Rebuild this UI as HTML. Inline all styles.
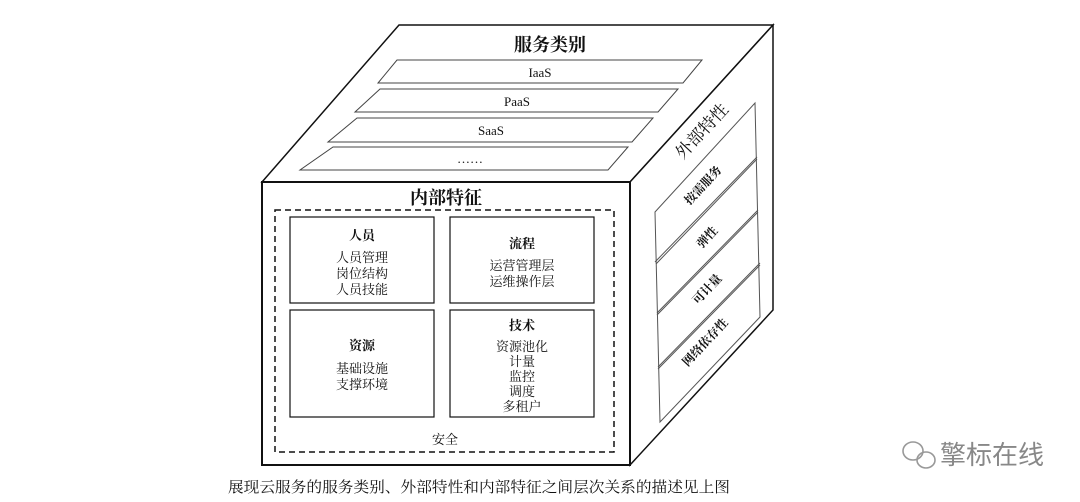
<!DOCTYPE html>
<html><head><meta charset="utf-8"><style>
html,body{margin:0;padding:0;background:#fff;width:1080px;height:502px;overflow:hidden}
text{font-family:"Liberation Serif","Noto Serif CJK SC",serif;fill:#111}
</style></head><body>
<svg width="1080" height="502" viewBox="0 0 1080 502" xmlns="http://www.w3.org/2000/svg">
<g fill="none" stroke="#111">
<polygon points="262,182 399,25 773,25 630,182" stroke-width="1.5" fill="#fff"/>
<polygon points="630,182 773,25 773,310 630,465" stroke-width="1.5" fill="#fff"/>
<rect x="262" y="182" width="368" height="283" stroke-width="2" fill="#fff"/>
<g stroke-width="1" stroke="#444">
<polygon points="397,60 702,60 683,83 378,83"/>
<polygon points="380,89 678,89 658,112 355,112"/>
<polygon points="357,118 653,118 632,142 328,142"/>
<polygon points="333,147 628,147 608,170 300,170"/>
</g>
<g stroke-width="1" stroke="#555">
<polygon points="655,212 755,103 760,317 660,422"/>
<line x1="655" y1="262" x2="757" y2="157"/><line x1="656" y1="264" x2="757" y2="159"/>
<line x1="657" y1="313" x2="758" y2="210"/><line x1="657" y1="315" x2="758" y2="212"/>
<line x1="658" y1="367" x2="760" y2="263"/><line x1="658" y1="369" x2="760" y2="265"/>
</g>
<rect x="275" y="210" width="339" height="242" stroke-width="1.5" stroke-dasharray="6,4"/>
<g stroke-width="1.2">
<rect x="290" y="217" width="144" height="86"/>
<rect x="450" y="217" width="144" height="86"/>
<rect x="290" y="310" width="144" height="107"/>
<rect x="450" y="310" width="144" height="107"/>
</g>
</g>
<g text-anchor="middle">
<text x="550" y="51" font-size="18" font-weight="bold">服务类别</text>
<text x="540" y="77" font-size="13">IaaS</text>
<text x="517" y="106" font-size="13">PaaS</text>
<text x="491" y="135" font-size="13">SaaS</text>
<text x="470" y="163" font-size="13">……</text>
<text x="446" y="204" font-size="18" font-weight="bold">内部特征</text>
<text x="362" y="240" font-size="13" font-weight="bold">人员</text>
<text x="362" y="262" font-size="13">人员管理</text>
<text x="362" y="278" font-size="13">岗位结构</text>
<text x="362" y="294" font-size="13">人员技能</text>
<text x="522" y="248" font-size="13" font-weight="bold">流程</text>
<text x="522" y="270" font-size="13">运营管理层</text>
<text x="522" y="286" font-size="13">运维操作层</text>
<text x="362" y="350" font-size="13" font-weight="bold">资源</text>
<text x="362" y="373" font-size="13">基础设施</text>
<text x="362" y="389" font-size="13">支撑环境</text>
<text x="522" y="330" font-size="13" font-weight="bold">技术</text>
<text x="522" y="351" font-size="13">资源池化</text>
<text x="522" y="366" font-size="13">计量</text>
<text x="522" y="381" font-size="13">监控</text>
<text x="522" y="396" font-size="13">调度</text>
<text x="522" y="411" font-size="13">多租户</text>
<text x="445" y="444" font-size="13">安全</text>
<text transform="translate(706,135) rotate(-47)" font-size="17">外部特性</text>
<text transform="translate(706,188) rotate(-47)" font-size="12" font-weight="bold">按需服务</text>
<text transform="translate(710,240) rotate(-47)" font-size="12" font-weight="bold">弹性</text>
<text transform="translate(710,292) rotate(-47)" font-size="12" font-weight="bold">可计量</text>
<text transform="translate(708,345) rotate(-47)" font-size="12" font-weight="bold">网络依存性</text>
<text x="479" y="492" font-size="15" textLength="502" lengthAdjust="spacingAndGlyphs">展现云服务的服务类别、外部特性和内部特征之间层次关系的描述见上图</text>
</g>
<g fill="none" stroke="#999" stroke-width="1.6">
<ellipse cx="913" cy="451" rx="10" ry="9"/>
<ellipse cx="926" cy="460" rx="9" ry="8"/>
</g>
<text x="940" y="464" font-size="26" style="font-family:'Liberation Sans','Noto Sans CJK SC',sans-serif;fill:#888">擎标在线</text>
</svg>
</body></html>
